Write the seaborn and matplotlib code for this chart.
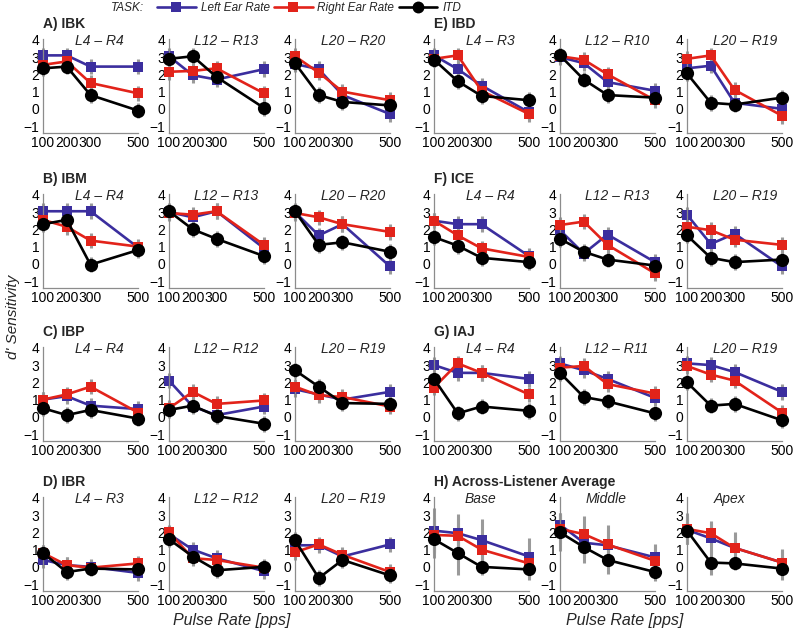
import numpy as np
import pandas as pd
import matplotlib
matplotlib.use("Agg")
import matplotlib.pyplot as plt
import seaborn as sns
from matplotlib.lines import Line2D

# =====================
# Data (d')
# =====================
rates = [100, 200, 300, 500]
yticks = [-1, 0, 1, 2, 3, 4]

panel_labels = ["A) IBK", "B) IBM", "C) IBP", "D) IBR",
                "E) IBD", "F) ICE", "G) IAJ", "H) Across-Listener Average"]

pair_names = [
    ["L4 – R4", "L12 – R13", "L20 – R20"],
    ["L4 – R4", "L12 – R13", "L20 – R20"],
    ["L4 – R4", "L12 – R12", "L20 – R19"],
    ["L4 – R3", "L12 – R12", "L20 – R19"],
    ["L4 – R3", "L12 – R10", "L20 – R19"],
    ["L4 – R4", "L12 – R13", "L20 – R19"],
    ["L4 – R4", "L12 – R11", "L20 – R19"],
    ["Base", "Middle", "Apex"],
]

# one row per electrode pair, values at 100/200/300/500 pps
ibk_left = [[3.1, 3.1, 2.45, 2.45], [3.05, 1.95, 1.7, 2.3], [2.6, 2.3, 0.8, -0.3]]
ibk_right = [[2.55, 2.75, 1.5, 0.9], [2.15, 2.2, 2.35, 0.9], [3.05, 2.1, 1.0, 0.5]]
ibk_itd = [[2.35, 2.45, 0.8, -0.1], [2.9, 3.05, 1.85, 0.05], [2.65, 0.8, 0.4, 0.2]]

ibm_left = [[3.05, 3.05, 3.05, 0.95], [3.0, 2.7, 3.05, 0.9], [3.0, 1.65, 2.3, -0.15]]
ibm_right = [[2.55, 2.15, 1.35, 1.0], [2.95, 2.85, 3.05, 1.1], [2.95, 2.7, 2.3, 1.85]]
ibm_itd = [[2.3, 2.55, -0.05, 0.8], [3.05, 2.0, 1.45, 0.45], [3.05, 1.1, 1.25, 0.7]]

ibp_left = [[1.0, 1.2, 0.65, 0.45], [2.1, 0.6, 0.1, 0.6], [1.6, 1.3, 1.0, 1.45]]
ibp_right = [[1.0, 1.3, 1.75, 0.25], [0.5, 1.45, 0.75, 0.95], [1.75, 1.25, 1.15, 0.6]]
ibp_itd = [[0.5, 0.1, 0.4, -0.1], [0.4, 0.65, 0.05, -0.4], [2.7, 1.75, 0.8, 0.75]]

ibr_left = [[0.4, 0.1, 0.0, -0.35], [1.9, 1.0, 0.5, -0.25], [1.25, 1.25, 0.6, 1.3]]
ibr_right = [[0.8, 0.1, -0.05, 0.2], [2.0, 0.5, 0.4, -0.05], [0.85, 1.3, 0.7, -0.3]]
ibr_itd = [[0.8, -0.3, -0.1, -0.15], [1.6, 0.6, -0.2, 0.0], [1.55, -0.65, 0.4, -0.5]]

ibd_left = [[3.1, 2.3, 1.35, -0.2], [3.0, 2.65, 1.55, 1.05], [2.35, 2.5, 0.35, 0.0]]
ibd_right = [[2.9, 3.1, 1.05, -0.3], [3.05, 2.85, 2.0, 0.5], [2.9, 3.1, 1.1, -0.4]]
ibd_itd = [[2.85, 1.6, 0.75, 0.5], [3.1, 1.7, 0.8, 0.65], [2.05, 0.35, 0.25, 0.65]]

ice_left = [[2.5, 2.3, 2.3, 0.45], [1.95, 0.6, 1.7, 0.1], [2.85, 1.15, 1.75, -0.15]]
ice_right = [[2.5, 1.65, 0.9, 0.4], [2.25, 2.45, 1.1, -0.55], [2.15, 1.95, 1.4, 1.1]]
ice_itd = [[1.55, 1.05, 0.35, 0.1], [1.45, 0.7, 0.25, -0.1], [1.65, 0.35, 0.1, 0.25]]

iaj_left = [[3.0, 2.55, 2.55, 2.2], [3.1, 2.7, 2.2, 1.1], [3.1, 3.0, 2.6, 1.45]]
iaj_right = [[1.7, 3.1, 2.55, 1.3], [2.85, 2.95, 1.9, 1.35], [2.95, 2.45, 2.1, 0.25]]
iaj_itd = [[2.2, 0.2, 0.6, 0.35], [2.55, 1.15, 0.9, 0.2], [2.0, 0.65, 0.75, -0.2]]

avg_left = [[2.1, 1.95, 1.55, 0.6], [2.45, 1.4, 1.25, 0.55], [2.15, 1.65, 1.1, 0.25]]
avg_right = [[1.85, 1.8, 1.0, 0.2], [2.2, 1.9, 1.3, 0.35], [2.2, 1.95, 1.1, 0.25]]
avg_itd = [[1.6, 0.8, 0.0, -0.15], [2.0, 1.15, 0.4, -0.3], [2.1, 0.25, 0.2, -0.1]]

# standard deviation of the across-listener average
avg_left_sd = [[1.3, 1.1, 1.2, 1.1], [0.7, 0.8, 0.9, 0.8], [0.8, 0.9, 0.8, 0.7]]
avg_right_sd = [[1.0, 1.0, 0.9, 0.8], [0.8, 1.05, 1.1, 0.9], [0.9, 0.7, 0.9, 0.8]]
avg_itd_sd = [[1.1, 1.3, 0.5, 0.6], [1.1, 0.95, 0.8, 0.5], [0.75, 0.75, 0.4, 0.65]]

# typical error bar for single listeners
single_sd = 0.45

left_all = [ibk_left, ibm_left, ibp_left, ibr_left, ibd_left, ice_left, iaj_left, avg_left]
right_all = [ibk_right, ibm_right, ibp_right, ibr_right, ibd_right, ice_right, iaj_right, avg_right]
itd_all = [ibk_itd, ibm_itd, ibp_itd, ibr_itd, ibd_itd, ice_itd, iaj_itd, avg_itd]

# =====================
# Styling
# =====================
sns.set_theme(style="white")
plt.rcParams['font.family'] = ['Liberation Sans', 'DejaVu Sans']

task_names = ["Left Ear Rate", "Right Ear Rate", "ITD"]
task_colors = ["#3b2e9e", "#e2231a", "#000000"]
task_markers = ["s", "s", "o"]
task_msize = [7.5, 7.5, 9.5]
err_color = "#9a9a9a"

fig = plt.figure(figsize=(7.94, 6.34), dpi=100)
W, H = 794.0, 634.0
col_left = [43, 169, 295, 434, 560, 687]
row_top = [39, 194, 347, 497]
ax_w, ax_h = 95, 94
sub_x = [0.59, 0.6, 0.61]

for i in range(8):
    block, row = divmod(i, 4)
    for j in range(3):
        c = block * 3 + j
        ax = fig.add_axes([col_left[c] / W, 1 - (row_top[row] + ax_h) / H, ax_w / W, ax_h / H])
        series = [left_all[i][j], right_all[i][j], itd_all[i][j]]
        if i == 7:
            sds = [avg_left_sd[j], avg_right_sd[j], avg_itd_sd[j]]
        else:
            sds = [[single_sd] * 4] * 3

        for vals, sd in zip(series, sds):
            ax.errorbar(rates, vals, yerr=sd, fmt='none', ecolor=err_color,
                        elinewidth=2.2, capsize=0, zorder=1, clip_on=False)
        for k, vals in enumerate(series):
            df = pd.DataFrame({'rate': rates, 'dprime': vals})
            sns.lineplot(data=df, x='rate', y='dprime', ax=ax, color=task_colors[k],
                         marker=task_markers[k], markersize=task_msize[k],
                         markeredgewidth=0, linewidth=1.9, errorbar=None,
                         clip_on=False, zorder=2 + k)

        ax.set_xlim(100, 500)
        ax.set_ylim(-1.4, 4.05)
        ax.set_xticks(rates)
        ax.set_yticks(yticks)
        ax.set_xlabel("")
        ax.set_ylabel("")
        ax.tick_params(length=0, pad=2.5, labelsize=10, colors="black")
        for s in ["top", "right"]:
            ax.spines[s].set_visible(False)
        for s in ["left", "bottom"]:
            ax.spines[s].set_color("#8c8c8c")
            ax.spines[s].set_linewidth(0.9)
        tx = sub_x[j] if i < 7 else [0.49, 0.49, 0.45][j]
        ax.text(tx, 0.975, pair_names[i][j], transform=ax.transAxes,
                ha='center', va='center', fontsize=10, style='italic')
        if j == 0:
            ax.text(0.0, 1.16, panel_labels[i], transform=ax.transAxes,
                    ha='left', va='center', fontsize=10, fontweight='bold')

# axis labels
fig.text(0.016, 0.5, "d' Sensitivity", rotation=90, ha='center', va='center',
         fontsize=11, style='italic')
fig.text(232 / W, 1 - 620 / H, "Pulse Rate [pps]", ha='center', va='center',
         fontsize=11.5, style='italic')
fig.text(625 / W, 1 - 620 / H, "Pulse Rate [pps]", ha='center', va='center',
         fontsize=11.5, style='italic')

# legend
handles = [Line2D([0], [0], color=task_colors[k], marker=task_markers[k],
                  markersize=task_msize[k] * 0.9, markeredgewidth=0, linewidth=1.9)
           for k in range(3)]
fig.text(144 / W, 1 - 8 / H, "TASK:", ha='right', va='center', fontsize=8.5, style='italic')
leg = fig.legend(handles, task_names, loc='center left', bbox_to_anchor=(157 / W, 1 - 8 / H),
                 ncol=3, frameon=False, handlelength=3.3, handletextpad=0.4,
                 columnspacing=0.35, borderpad=0, borderaxespad=0,
                 prop={'size': 8.5, 'style': 'italic'})

plt.savefig("out.png", dpi=100)
